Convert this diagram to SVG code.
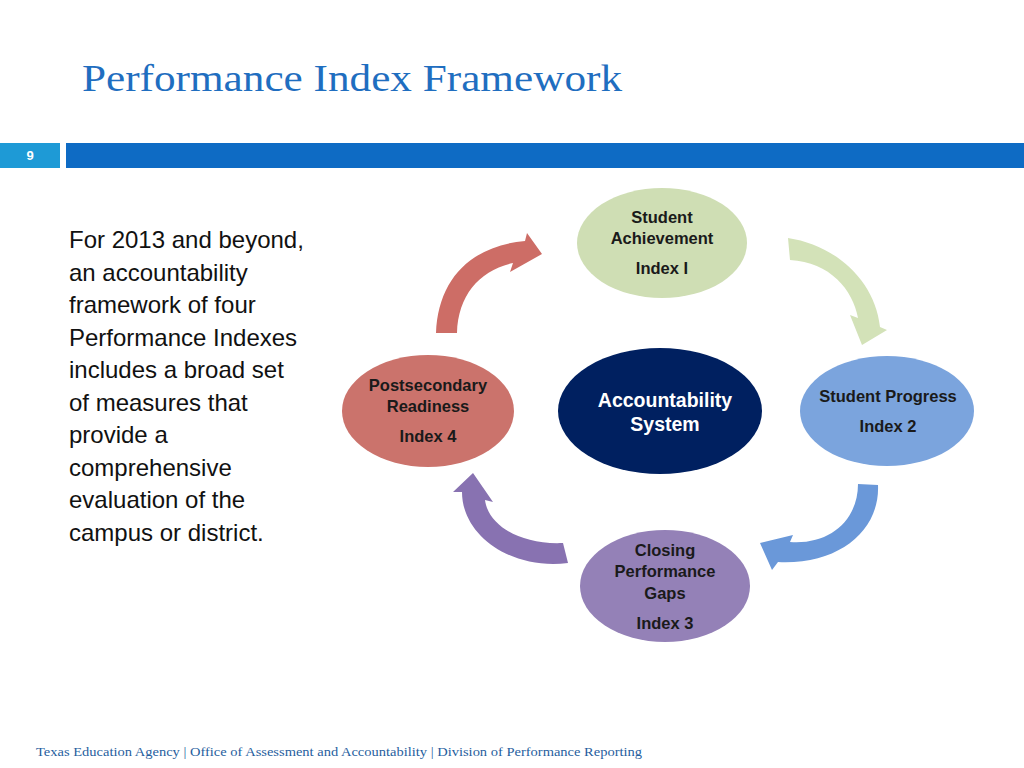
<svg xmlns="http://www.w3.org/2000/svg" width="1024" height="768" viewBox="0 0 1024 768">
<style>
.node { font-family: "Liberation Sans", Arial, sans-serif; font-weight: bold; font-size: 16.5px; fill: #1a1a1a; text-anchor: middle; }
.center { font-family: "Liberation Sans", Arial, sans-serif; font-weight: bold; font-size: 19.5px; fill: #ffffff; text-anchor: middle; }
.body { font-family: "Liberation Sans", Arial, sans-serif; font-size: 24px; fill: #111111; }
.serif { font-family: "Liberation Serif", "Times New Roman", serif; }
</style>
<rect width="1024" height="768" fill="#ffffff"/>
<text class="serif" x="82" y="91" font-size="38" fill="#1F6EC0" textLength="540" lengthAdjust="spacingAndGlyphs">Performance Index Framework</text>
<rect x="0" y="143" width="60" height="25" fill="#1E9AD6"/>
<rect x="66" y="143" width="958" height="25" fill="#0E6BC4"/>
<text x="30" y="160" font-family="Liberation Sans, Arial, sans-serif" font-weight="bold" font-size="13" fill="#ffffff" text-anchor="middle">9</text>
<g id="body-text" class="body">
<text x="69" y="248">For 2013 and beyond,</text>
<text x="69" y="280.5">an accountability</text>
<text x="69" y="313">framework of four</text>
<text x="69" y="345.5">Performance Indexes</text>
<text x="69" y="378">includes a broad set</text>
<text x="69" y="410.5">of measures that</text>
<text x="69" y="443">provide a</text>
<text x="69" y="475.5">comprehensive</text>
<text x="69" y="508">evaluation of the</text>
<text x="69" y="540.5">campus or district.</text>
</g>
<g id="connectors">
<path d="M436,333 C438,280 470,246 525,241 L527,233 L542,254 L510,272 L513,263 C480,270 458,295 457,333 Z" fill="#CD6D66"/>
<path d="M788,238 C835,245 875,280 880,327 L887,330 L862,345 L850,315 L858,318 C853,290 830,262 790,260 Z" fill="#D3E2B8"/>
<path d="M878,485 C880,530 840,565 778,562 L772,570 L760,543 L793,535 L790,542 C830,545 858,520 858,484 Z" fill="#6A98D9"/>
<path d="M568,563 C510,570 462,535 462,492 L453,492 L473,473 L493,502 L485,500 C488,525 520,545 563,543 Z" fill="#8872B1"/>
</g>
<g id="node-achievement">
<ellipse cx="662" cy="243" rx="85" ry="55" fill="#CFDEB4"/>
<text class="node" x="662" y="223">Student</text>
<text class="node" x="662" y="244">Achievement</text>
<text class="node" x="662" y="274">Index I</text>
</g>
<g id="node-progress">
<ellipse cx="887" cy="411" rx="87" ry="55" fill="#7BA4DD"/>
<text class="node" x="888" y="402">Student Progress</text>
<text class="node" x="888" y="432">Index 2</text>
</g>
<g id="node-gaps">
<ellipse cx="665" cy="586" rx="85" ry="56" fill="#9481B7"/>
<text class="node" x="665" y="556">Closing</text>
<text class="node" x="665" y="577">Performance</text>
<text class="node" x="665" y="599">Gaps</text>
<text class="node" x="665" y="629">Index 3</text>
</g>
<g id="node-readiness">
<ellipse cx="428" cy="411" rx="86" ry="56" fill="#CB736C"/>
<text class="node" x="428" y="391">Postsecondary</text>
<text class="node" x="428" y="412">Readiness</text>
<text class="node" x="428" y="442">Index 4</text>
</g>
<g id="node-system">
<ellipse cx="660" cy="411" rx="102" ry="63" fill="#002060"/>
<text class="center" x="665" y="407">Accountability</text>
<text class="center" x="665" y="431">System</text>
</g>
<text class="serif" x="36" y="756" font-size="13" fill="#1F5E9E" textLength="606" lengthAdjust="spacingAndGlyphs">Texas Education Agency | Office of Assessment and Accountability | Division of Performance Reporting</text>
</svg>
